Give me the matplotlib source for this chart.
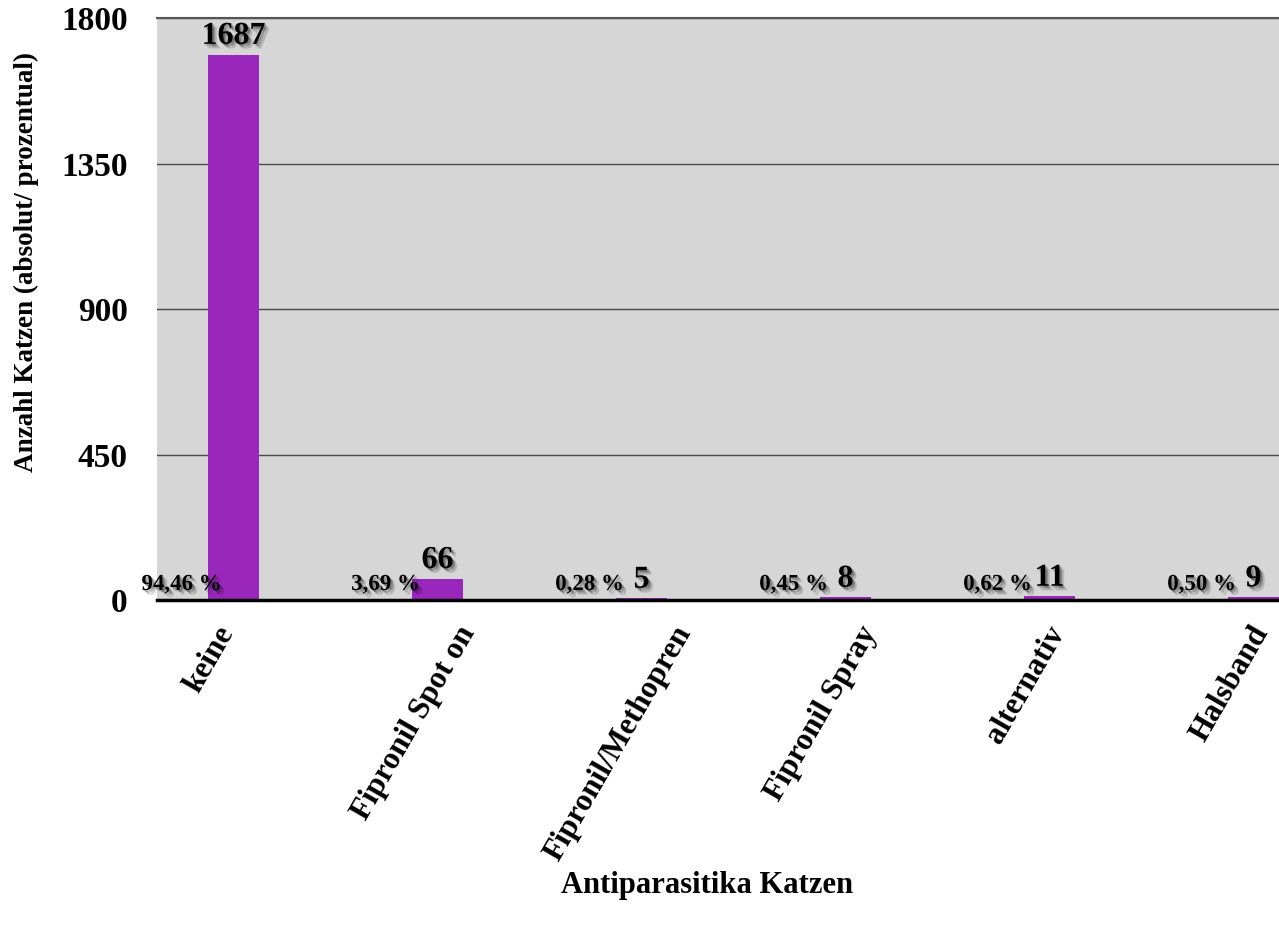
import matplotlib
matplotlib.use("Agg")
import matplotlib.pyplot as plt
import matplotlib.patheffects as pe
import numpy as np

categories = ["keine", "Fipronil Spot on", "Fipronil/Methopren",
              "Fipronil Spray", "alternativ", "Halsband"]
counts = [1687, 66, 5, 8, 11, 9]
percents = ["94,46 %", "3,69 %", "0,28 %", "0,45 %", "0,62 %", "0,50 %"]
yticks = [0, 450, 900, 1350, 1800]

plt.rcParams['font.family'] = ['Liberation Serif', 'DejaVu Serif']
plt.rcParams['font.weight'] = 'bold'


def shadow():
    # soft drop shadow made of a few offset copies
    fx = []
    for dx, dy, a in [(3.5, -3.5, 0.08), (3, -3, 0.10), (2, -2, 0.14), (1.5, -1.5, 0.14), (1, -1, 0.14)]:
        fx.append(pe.SimplePatchShadow(offset=(dx, dy), shadow_rgbFace='black', alpha=a))
    fx.append(pe.Normal())
    return fx


fig = plt.figure(figsize=(12.79, 9.30), dpi=100)
ax = fig.add_axes([157 / 1279, 1 - 600 / 930, (1279 - 157) / 1279, 582 / 930])
ax.set_facecolor('#d6d6d6')

ind = np.arange(len(categories))
bars = ax.bar(ind, counts, 0.25, color='#9a27bc', zorder=3)

ax.set_xlim(-0.375, 5.125)
ax.set_ylim(0, 1800)
ax.set_yticks(yticks)
ax.set_yticklabels([str(v) for v in yticks], fontsize=24, fontweight='bold')
ax.tick_params(axis='y', length=0, pad=21)
ax.tick_params(axis='x', length=0, pad=15)
ax.yaxis.grid(True, color='#4a4a4a', linewidth=1.0, zorder=1)
ax.set_axisbelow(True)
for s in ['left', 'right']:
    ax.spines[s].set_visible(False)
ax.spines['top'].set_color('#555555')
ax.spines['top'].set_linewidth(1.5)
ax.spines['bottom'].set_color('black')
ax.spines['bottom'].set_linewidth(2.5)
ax.spines['bottom'].set_zorder(4)

ax.set_xticks(ind - 0.115)
ax.set_xticklabels(categories, rotation=60, ha='center', fontsize=22.5, fontweight='bold')

ax.set_ylabel("Anzahl Katzen (absolut/ prozentual)", fontsize=19.5, fontweight='bold')
ax.yaxis.set_label_coords(-0.1168, 0.581)
ax.yaxis.label.set_va('center')
ax.set_xlabel("Antiparasitika Katzen", fontsize=22, fontweight='bold')
ax.xaxis.set_label_coords(0.4906, -0.49)
ax.xaxis.label.set_va('center')

# value labels above bars and share labels to the left
for i, rect in enumerate(bars):
    h = rect.get_height()
    cx = rect.get_x() + rect.get_width() / 2.0
    ax.text(cx, h + 33, '%d' % counts[i], ha='center', va='baseline',
            fontsize=23, fontweight='bold', zorder=5, path_effects=shadow())
    ax.text(cx - 0.255, 31, percents[i], ha='center', va='baseline',
            fontsize=16.5, fontweight='bold', zorder=5, path_effects=shadow())

fig.savefig("out.png", dpi=100)
